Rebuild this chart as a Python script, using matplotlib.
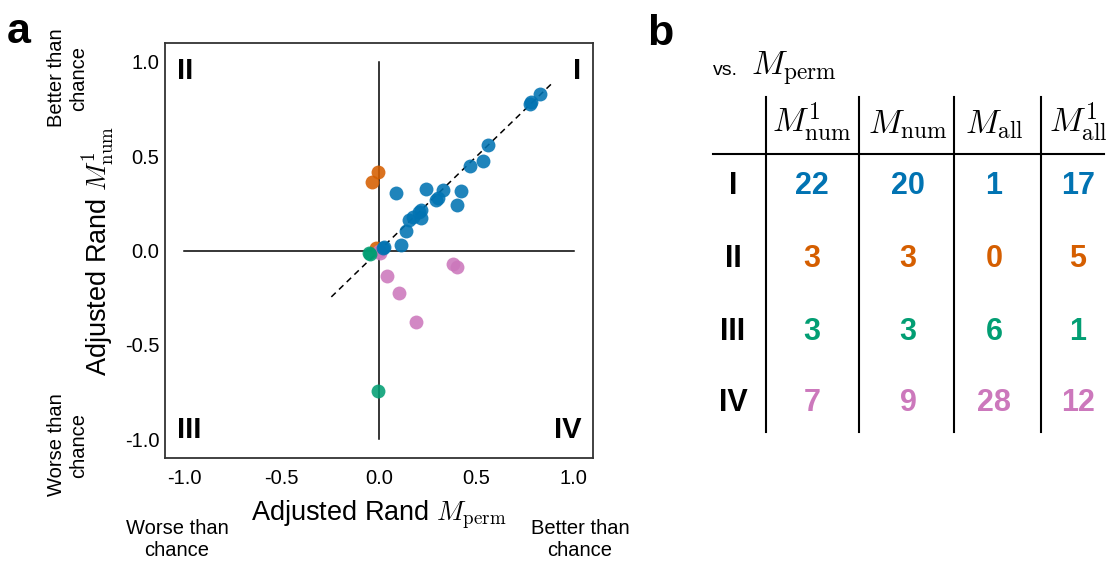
import matplotlib
matplotlib.use('Agg')
import matplotlib.pyplot as plt

plt.rcParams['font.family'] = ['Liberation Sans', 'DejaVu Sans']
plt.rcParams['mathtext.fontset'] = 'cm'
plt.rcParams['axes.unicode_minus'] = False

# ---------------- data (panel a) ----------------
blue_x = [0.828, 0.783, 0.777, 0.562, 0.535, 0.466, 0.240, 0.331, 0.424, 0.086, 0.292,
          0.303, 0.403, 0.218, 0.206, 0.214, 0.177, 0.154, 0.137, 0.112, 0.026, 0.020]
blue_y = [0.827, 0.786, 0.775, 0.561, 0.474, 0.447, 0.326, 0.320, 0.317, 0.303, 0.267,
          0.276, 0.240, 0.215, 0.206, 0.171, 0.179, 0.162, 0.104, 0.030, 0.021, 0.015]
orange_x = [-0.005, -0.038, -0.017]
orange_y = [0.414, 0.361, 0.013]
green_x = [-0.049, -0.045, -0.003]
green_y = [-0.012, -0.020, -0.747]
pink_x = [0.005, 0.043, 0.103, 0.192, 0.382, 0.400, 0.000]
pink_y = [-0.014, -0.137, -0.227, -0.380, -0.070, -0.088, -0.005]
fit_x = [-0.245, 0.900]
fit_y = [-0.246, 0.897]

x_ticks = [-1.0, -0.5, 0.0, 0.5, 1.0]
y_ticks = [-1.0, -0.5, 0.0, 0.5, 1.0]
tick_labels = ['-1.0', '-0.5', '0.0', '0.5', '1.0']

# ---------------- data (panel b) ----------------
col_headers = [r'$M^1_\mathrm{num}$', r'$M_\mathrm{num}$', r'$M_\mathrm{all}$', r'$M^1_\mathrm{all}$']
row_labels = ['I', 'II', 'III', 'IV']
counts_I = [22, 20, 1, 17]
counts_II = [3, 3, 0, 5]
counts_III = [3, 3, 6, 1]
counts_IV = [7, 9, 28, 12]

BLUE = '#0173B2'
ORANGE = '#D55E00'
GREEN = '#029E73'
PINK = '#CC78BC'

W, H = 1108, 561
fig = plt.figure(figsize=(W / 100, H / 100), dpi=100)

# ---------------- panel a ----------------
ax = fig.add_axes([165 / W, (H - 458) / H, 428 / W, 415 / H])
ax.set_xlim(-1.1, 1.1)
ax.set_ylim(-1.1, 1.1)
ax.plot([-1, 1], [0, 0], color='black', lw=1.1, zorder=1)
ax.plot([0, 0], [-1, 1], color='black', lw=1.1, zorder=1)
ax.plot(fit_x, fit_y, color='black', lw=1.1, ls=(0, (4, 3)), zorder=1.5)

ms = 100
al = 0.88
ax.scatter(orange_x, orange_y, s=ms, color=ORANGE, alpha=al, lw=0, zorder=2)
ax.scatter(pink_x, pink_y, s=ms, color=PINK, alpha=al, lw=0, zorder=2)
ax.scatter(green_x, green_y, s=ms, color=GREEN, alpha=al, lw=0, zorder=2)
ax.scatter(blue_x, blue_y, s=ms, color=BLUE, alpha=al, lw=0, zorder=2)

ax.set_xticks(x_ticks)
ax.set_xticklabels(tick_labels)
ax.set_yticks(y_ticks)
ax.set_yticklabels(tick_labels)
ax.tick_params(axis='x', length=0, pad=8, labelsize=14.5)
ax.tick_params(axis='y', length=0, pad=4, labelsize=14.5)
for sp in ax.spines.values():
    sp.set_color('0.2')
    sp.set_linewidth(1.3)

ax.set_xlabel(r'Adjusted Rand $M_\mathrm{perm}$', fontsize=19.5, labelpad=8)
ax.set_ylabel(r'Adjusted Rand $M^1_\mathrm{num}$', fontsize=19.5, labelpad=6)

qkw = dict(fontsize=21, fontweight='bold', transform=ax.transAxes)
ax.text(0.028, 0.966, 'II', ha='left', va='top', **qkw)
ax.text(0.972, 0.966, 'I', ha='right', va='top', **qkw)
ax.text(0.028, 0.034, 'III', ha='left', va='bottom', **qkw)
ax.text(0.972, 0.034, 'IV', ha='right', va='bottom', **qkw)

# ---------------- overlay in pixel coordinates ----------------
tax = fig.add_axes([0, 0, 1, 1])
tax.set_xlim(0, W)
tax.set_ylim(H, 0)
tax.axis('off')
tax.patch.set_visible(False)

tax.text(7, 43, 'a', fontsize=31, fontweight='bold', ha='left', va='baseline')
tax.text(647, 45, 'b', fontsize=31, fontweight='bold', ha='left', va='baseline')

skw = dict(fontsize=14.5, ha='center', va='center', linespacing=1.2)
tax.text(68, 78, 'Better than\nchance', rotation=90, **skw)
tax.text(68, 445, 'Worse than\nchance', rotation=90, **skw)
tax.text(177, 539, 'Worse than\nchance', **skw)
tax.text(580, 539, 'Better than\nchance', **skw)

# ---------------- panel b: table ----------------
tax.text(713, 75, 'vs.', fontsize=14, ha='left', va='baseline')
tax.text(751, 75, r'$M_\mathrm{perm}$', fontsize=24, ha='left', va='baseline')

col_x = [812, 908, 994, 1078]
row_y = [186, 259, 332, 403]
vline_x = [766, 859, 954, 1041]
for vx in vline_x:
    tax.plot([vx, vx], [97, 432], color='black', lw=1.5)
tax.plot([713, 1104], [154, 154], color='black', lw=1.5)

for cx, hdr in zip(col_x, col_headers):
    tax.text(cx, 133, hdr, fontsize=24, ha='center', va='baseline')

row_colors = [BLUE, ORANGE, GREEN, PINK]
row_counts = [counts_I, counts_II, counts_III, counts_IV]
for ry, lab, cnts, colr in zip(row_y, row_labels, row_counts, row_colors):
    tax.text(733, ry, lab, fontsize=22, fontweight='bold', ha='center', va='center')
    for cx, v in zip(col_x, cnts):
        tax.text(cx, ry, str(v), fontsize=22, fontweight='bold', color=colr,
                 ha='center', va='center')

fig.savefig('out.png', dpi=100)
